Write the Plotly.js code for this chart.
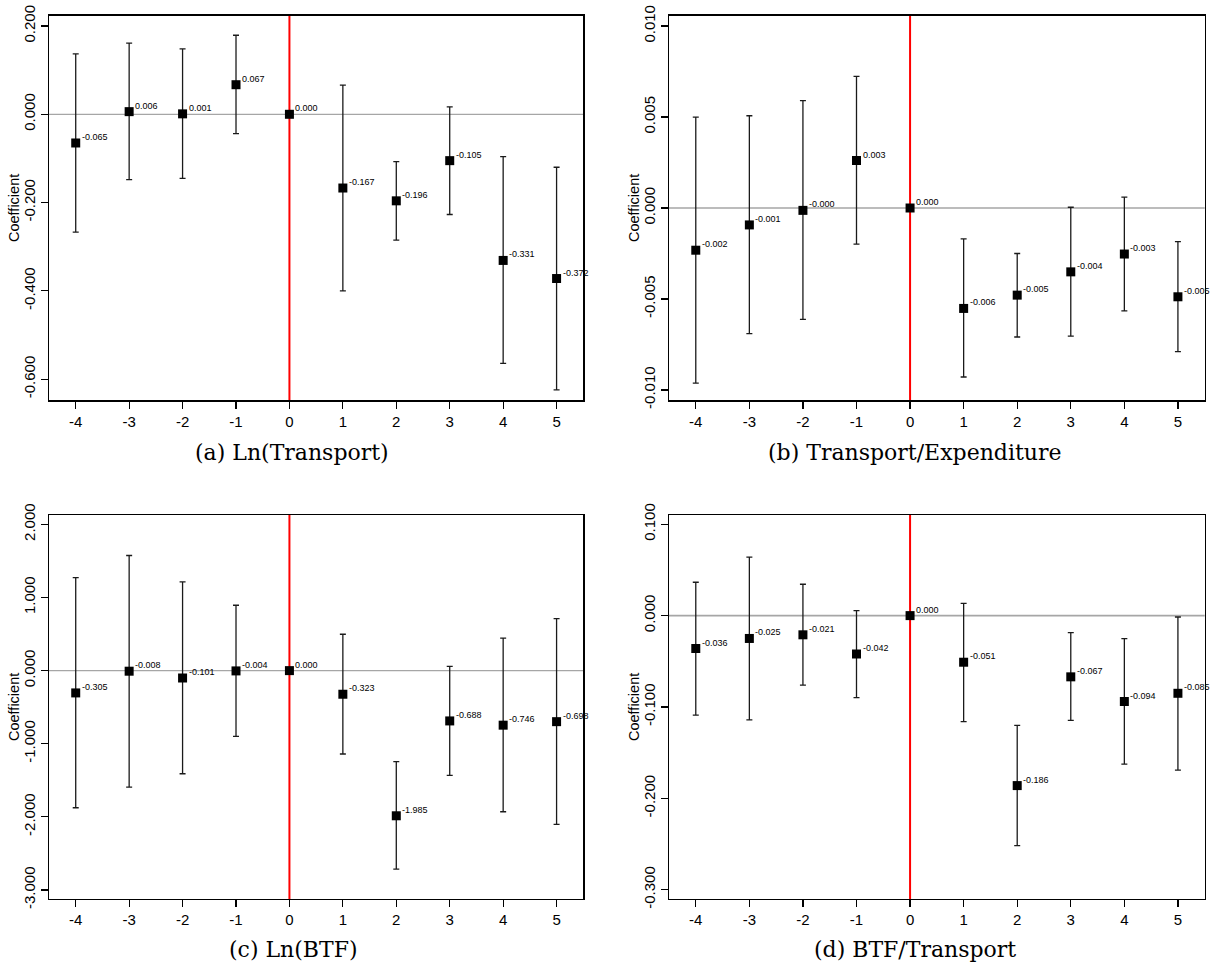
<!DOCTYPE html>
<html>
<head>
<meta charset="utf-8">
<script src="https://cdn.plot.ly/plotly-3.0.1.min.js"></script>
<style>html,body{margin:0;padding:0;background:#fff;}#chart{width:1211px;height:967px;}</style>
</head>
<body>
<div id="chart"></div>
<script>
// ---- data ----
const periods = [-4, -3, -2, -1, 0, 1, 2, 3, 4, 5];
const xTickText = ["-4", "-3", "-2", "-1", "0", "1", "2", "3", "4", "5"];

// (a) Ln(Transport)
const aCoef = [-0.065, 0.006, 0.001, 0.067, 0.000, -0.167, -0.196, -0.105, -0.331, -0.372];
const aHi   = [0.137, 0.161, 0.148, 0.179, 0.000, 0.066, -0.107, 0.017, -0.096, -0.120];
const aLo   = [-0.267, -0.148, -0.145, -0.044, 0.000, -0.400, -0.285, -0.227, -0.564, -0.624];
const aTickVals = [-0.6, -0.4, -0.2, 0, 0.2];
const aTickText = ["-0.600", "-0.400", "-0.200", "0.000", "0.200"];

// (b) Transport/Expenditure
const bCoef = [-0.00232, -0.00093, -0.00013, 0.00261, 0.0, -0.00552, -0.00479, -0.00351, -0.00253, -0.00488];
const bHi   = [0.00500, 0.00507, 0.00590, 0.00724, 0.0, -0.00170, -0.00250, 0.00004, 0.00060, -0.00185];
const bLo   = [-0.00963, -0.00691, -0.00612, -0.00199, 0.0, -0.00929, -0.00709, -0.00704, -0.00565, -0.00790];
const bTickVals = [-0.01, -0.005, 0, 0.005, 0.01];
const bTickText = ["-0.010", "-0.005", "0.000", "0.005", "0.010"];

// (c) Ln(BTF)
const cCoef = [-0.305, -0.008, -0.101, -0.004, 0.000, -0.323, -1.985, -0.688, -0.746, -0.698];
const cHi   = [1.273, 1.574, 1.213, 0.894, 0.000, 0.497, -1.245, 0.059, 0.443, 0.712];
const cLo   = [-1.875, -1.592, -1.410, -0.899, 0.000, -1.140, -2.714, -1.432, -1.930, -2.103];
const cTickVals = [-3, -2, -1, 0, 1, 2];
const cTickText = ["-3.000", "-2.000", "-1.000", "0.000", "1.000", "2.000"];

// (d) BTF/Transport
const dCoef = [-0.036, -0.025, -0.021, -0.042, 0.000, -0.051, -0.186, -0.067, -0.094, -0.085];
const dHi   = [0.0365, 0.0639, 0.0343, 0.0055, 0.0, 0.0135, -0.1202, -0.0186, -0.0252, -0.0015];
const dLo   = [-0.1088, -0.1140, -0.0760, -0.0898, 0.0, -0.1161, -0.2516, -0.1147, -0.1625, -0.1691];
const dTickVals = [-0.3, -0.2, -0.1, 0, 0.1];
const dTickText = ["-0.300", "-0.200", "-0.100", "0.000", "0.100"];

const panelTitles = ["(a) Ln(Transport)", "(b) Transport/Expenditure", "(c) Ln(BTF)", "(d) BTF/Transport"];
const yTitle = "Coefficient";

// ---- build ----
const W = 1211, H = 967;
const panels = [
  {coef: aCoef, hi: aHi, lo: aLo, tv: aTickVals, tt: aTickText, yr: [-0.6478, 0.2233], xd: [49, 583.3], yd: [15.7, 400.3], tx: 292, ty: 453, zw: 1.3},
  {coef: bCoef, hi: bHi, lo: bLo, tv: bTickVals, tt: bTickText, yr: [-0.01057, 0.01057], xd: [669, 1204.7], yd: [15.7, 400.3], tx: 914.7, ty: 453, zw: 1.3},
  {coef: cCoef, hi: cHi, lo: cLo, tv: cTickVals, tt: cTickText, yr: [-3.123, 2.128], xd: [49, 583.3], yd: [515, 899], tx: 293, ty: 949, zw: 1.3},
  {coef: dCoef, hi: dHi, lo: dLo, tv: dTickVals, tt: dTickText, yr: [-0.3101, 0.1101], xd: [669, 1204.7], yd: [515, 899], tx: 914.7, ty: 949, zw: 1.8}
];

const tickFont = {family: "Liberation Sans, Arial, Helvetica, sans-serif", size: 15, color: "#000"};
const data = [];
const layout = {
  width: W, height: H,
  margin: {l: 0, r: 0, t: 0, b: 0},
  paper_bgcolor: "#fff", plot_bgcolor: "#fff",
  showlegend: false,
  shapes: [], annotations: []
};

panels.forEach((p, k) => {
  const sfx = k === 0 ? "" : String(k + 1);
  const xa = "x" + sfx, ya = "y" + sfx;
  data.push({
    type: "scatter", mode: "markers",
    x: periods, y: p.coef, xaxis: xa, yaxis: ya,
    marker: {symbol: "square", size: 9, color: "#000"},
    error_y: {
      type: "data", symmetric: false,
      array: p.hi.map((v, i) => v - p.coef[i]),
      arrayminus: p.lo.map((v, i) => p.coef[i] - v),
      color: "#1a1a1a", thickness: 1.3, width: 3
    },
    hoverinfo: "skip", cliponaxis: false
  });
  const axCommon = {
    showgrid: false, zeroline: false, showline: true, mirror: true,
    linecolor: "#000", linewidth: 1.3,
    ticks: "outside", ticklen: 7, tickwidth: 1.2, tickcolor: "#000",
    tickfont: tickFont, fixedrange: true
  };
  layout["xaxis" + sfx] = Object.assign({}, axCommon, {
    domain: [p.xd[0] / W, p.xd[1] / W], anchor: ya,
    range: [-4.5, 5.5], tickmode: "array", tickvals: periods, ticktext: xTickText
  });
  layout["yaxis" + sfx] = Object.assign({}, axCommon, {
    domain: [1 - p.yd[1] / H, 1 - p.yd[0] / H], anchor: xa,
    range: p.yr, tickmode: "array", tickvals: p.tv, ticktext: p.tt, tickangle: -90
  });
  // reference lines
  layout.shapes.push({type: "line", xref: xa + " domain", yref: ya, x0: 0, x1: 1, y0: 0, y1: 0,
    line: {color: "#a6a6a6", width: p.zw}, layer: "below"});
  layout.shapes.push({type: "line", xref: xa, yref: ya + " domain", x0: 0, x1: 0, y0: 0, y1: 1,
    line: {color: "#ff0000", width: 2}, layer: "below"});
  // value labels
  periods.forEach((t, i) => {
    layout.annotations.push({
      xref: xa, yref: ya, x: t, y: p.coef[i], text: p.coef[i].toFixed(3),
      showarrow: false, xanchor: "left", yanchor: "middle", xshift: 4, yshift: 6,
      font: {family: "Liberation Sans, Arial, sans-serif", size: 9, color: "#000"}
    });
  });
  // y title
  layout.annotations.push({
    xref: "paper", yref: "paper", x: (p.xd[0] - 35) / W, y: 1 - (p.yd[0] + p.yd[1]) / 2 / H,
    text: yTitle, textangle: -90, showarrow: false, xanchor: "center", yanchor: "middle",
    font: {family: "Liberation Sans, Arial, sans-serif", size: 14.5, color: "#000"}
  });
  // panel caption
  layout.annotations.push({
    xref: "paper", yref: "paper", x: p.tx / W, y: 1 - p.ty / H,
    text: panelTitles[k], showarrow: false, xanchor: "center", yanchor: "middle",
    font: {family: "DejaVu Serif, serif", size: 22, color: "#000"}
  });
});

Plotly.newPlot("chart", data, layout, {displayModeBar: false, staticPlot: true});
</script>
</body>
</html>
